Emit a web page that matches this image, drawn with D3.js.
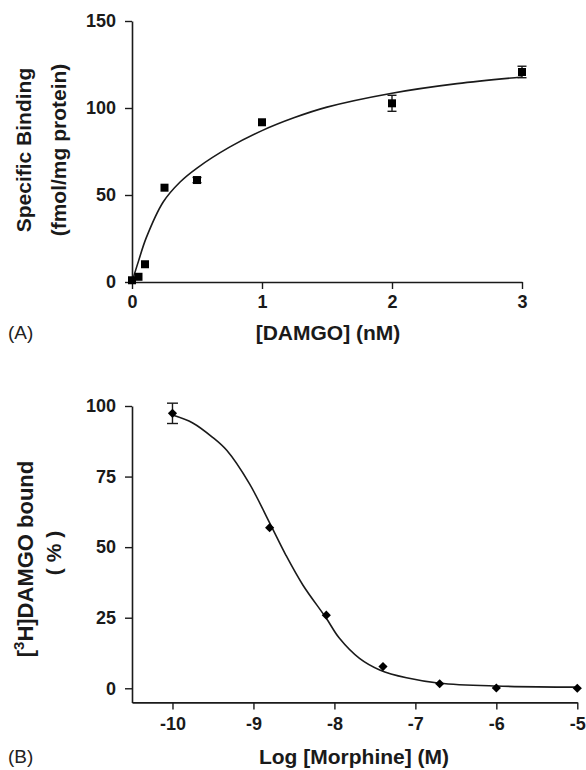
<!DOCTYPE html>
<html><head><meta charset="utf-8">
<script src="https://cdn.jsdelivr.net/npm/d3@7"></script>
<style>
html,body{margin:0;padding:0;background:#fff;}
svg{display:block;font-family:"Liberation Sans",Arial,Helvetica,sans-serif;}
</style></head>
<body>
<svg id="chart" width="586" height="770"></svg>
<script>
// ---------- Panel A data ----------
const aConc = [0, 0.05, 0.1, 0.25, 0.5, 1, 2, 3];            // [DAMGO] nM
const aBinding = [1, 3, 10.2, 54.2, 58.6, 91.8, 102.7, 120.7]; // fmol/mg protein
const aErr = [0, 0, 0, 0, 1.5, 0, 4.6, 3.3];
const aCurveX = [0, 0.05, 0.11, 0.24, 0.37, 0.5, 0.75, 1, 1.25, 1.5, 2, 2.5, 3];
const aCurveY = [0, 12, 25.5, 46, 57.5, 65.5, 77.5, 87, 94.5, 100.5, 108.5, 114, 117.8];
const aXTicks = [0, 1, 2, 3];
const aYTicks = [0, 50, 100, 150];

// ---------- Panel B data ----------
const bLogConc = [-10, -8.8, -8.1, -7.4, -6.7, -6, -5];        // Log [Morphine] M
const bBound = [97.4, 56.9, 25.9, 7.7, 1.6, 0.1, 0];          // % bound
const bErr = [3.6, 0, 0, 0, 0, 0, 0];
const bCurveX = [-10, -9.75, -9.5, -9.33, -9.05, -8.8, -8.6, -8.39, -8.1, -7.94, -7.69, -7.44, -7.11, -6.7, -6, -5];
const bCurveY = [96.8, 94, 88.8, 84.3, 72.5, 58.6, 47.2, 36.6, 24.8, 17.8, 10.6, 6.5, 3.7, 1.8, 0.8, 0.4];
const bXTicks = [-10, -9, -8, -7, -6, -5];
const bYTicks = [0, 25, 50, 75, 100];

const svg = d3.select("#chart");
const ink = "#1a1a1a";
const tickFont = 18, titleFont = 21;
const fmt = d => String(d);   // plain hyphen-minus, as in the original

function styleAxis(g){
  g.selectAll("path.domain").attr("stroke", ink).attr("stroke-width", 1.6);
  g.selectAll(".tick line").attr("stroke", ink).attr("stroke-width", 1.4);
  g.selectAll(".tick text").attr("fill", ink).attr("font-size", tickFont)
    .attr("font-weight", "bold").attr("font-family", "Liberation Sans, Arial, sans-serif");
}

// ================= Panel A =================
const xA = d3.scaleLinear().domain([0, 3]).range([132, 522]);
const yA = d3.scaleLinear().domain([0, 150]).range([282, 21]);

svg.append("g").attr("transform", `translate(0,${yA(0)})`)
  .call(d3.axisBottom(xA).tickValues(aXTicks).tickFormat(fmt).tickSize(7).tickSizeOuter(0).tickPadding(6))
  .call(styleAxis);
svg.append("g").attr("transform", `translate(${xA(0)},0)`)
  .call(d3.axisLeft(yA).tickValues(aYTicks).tickFormat(fmt).tickSize(7).tickSizeOuter(0).tickPadding(9))
  .call(styleAxis);

const lineA = d3.line().x((d,i)=>xA(aCurveX[i])).y(d=>yA(d)).curve(d3.curveCatmullRom.alpha(0.5));
svg.append("path").datum(aCurveY).attr("d", lineA).attr("fill","none").attr("stroke", ink).attr("stroke-width", 1.6);

const errA = svg.append("g").attr("stroke", ink).attr("stroke-width", 1.4);
aConc.forEach((c,i)=>{
  if(aErr[i] > 0){
    const x = xA(c), y1 = yA(aBinding[i]-aErr[i]), y2 = yA(aBinding[i]+aErr[i]);
    errA.append("line").attr("x1",x).attr("x2",x).attr("y1",y1).attr("y2",y2);
    errA.append("line").attr("x1",x-4.5).attr("x2",x+4.5).attr("y1",y1).attr("y2",y1);
    errA.append("line").attr("x1",x-4.5).attr("x2",x+4.5).attr("y1",y2).attr("y2",y2);
  }
});
svg.append("g").selectAll("path").data(aConc).join("path")
  .attr("d", d3.symbol().type(d3.symbolSquare).size(64))
  .attr("transform", (d,i)=>`translate(${xA(d)},${yA(aBinding[i])})`)
  .attr("fill", "#000");

// titles A
svg.append("text").attr("transform", `translate(31,150) rotate(-90)`)
  .attr("text-anchor","middle").attr("font-size", titleFont).attr("font-weight","bold").attr("fill", ink)
  .text("Specific Binding");
svg.append("text").attr("transform", `translate(66,150) rotate(-90)`)
  .attr("text-anchor","middle").attr("font-size", titleFont).attr("font-weight","bold").attr("fill", ink)
  .text("(fmol/mg protein)");
svg.append("text").attr("x", 328).attr("y", 340).attr("text-anchor","middle")
  .attr("font-size", titleFont).attr("font-weight","bold").attr("fill", ink).text("[DAMGO] (nM)");
svg.append("text").attr("x", 8).attr("y", 339).attr("font-size", 19).attr("fill", "#222").text("(A)");

// ================= Panel B =================
const xB = d3.scaleLinear().domain([-10.5, -5]).range([132, 577.3]);
const yB = d3.scaleLinear().domain([-5, 100]).range([702.4, 406]);

svg.append("g").attr("transform", `translate(0,${yB(-5)})`)
  .call(d3.axisBottom(xB).tickValues(bXTicks).tickFormat(fmt).tickSize(7).tickSizeOuter(0).tickPadding(8))
  .call(styleAxis);
svg.append("g").attr("transform", `translate(${xB(-10.5)},0)`)
  .call(d3.axisLeft(yB).tickValues(bYTicks).tickFormat(fmt).tickSize(7).tickSizeOuter(0).tickPadding(9))
  .call(styleAxis);

const lineB = d3.line().x((d,i)=>xB(bCurveX[i])).y(d=>yB(d)).curve(d3.curveCatmullRom.alpha(0.5));
svg.append("path").datum(bCurveY).attr("d", lineB).attr("fill","none").attr("stroke", ink).attr("stroke-width", 1.6);

const errB = svg.append("g").attr("stroke", ink).attr("stroke-width", 1.4);
bLogConc.forEach((c,i)=>{
  if(bErr[i] > 0){
    const x = xB(c), y1 = yB(bBound[i]-bErr[i]), y2 = yB(bBound[i]+bErr[i]);
    errB.append("line").attr("x1",x).attr("x2",x).attr("y1",y1).attr("y2",y2);
    errB.append("line").attr("x1",x-5.5).attr("x2",x+5.5).attr("y1",y1).attr("y2",y1);
    errB.append("line").attr("x1",x-5.5).attr("x2",x+5.5).attr("y1",y2).attr("y2",y2);
  }
});
svg.append("g").selectAll("path").data(bLogConc).join("path")
  .attr("d", d3.symbol().type(d3.symbolSquare).size(42))
  .attr("transform", (d,i)=>`translate(${xB(d)},${yB(bBound[i])}) rotate(45)`)
  .attr("fill", "#000");

// titles B
const tB = svg.append("text").attr("transform", `translate(33,559) rotate(-90)`)
  .attr("text-anchor","middle").attr("font-size", 22).attr("font-weight","bold").attr("fill", ink);
tB.append("tspan").text("[");
tB.append("tspan").attr("font-size", 15).attr("dy", -9).text("3");
tB.append("tspan").attr("dy", 9).text("H]DAMGO bound");
svg.append("text").attr("transform", `translate(61,553) rotate(-90)`)
  .attr("text-anchor","middle").attr("font-size", titleFont).attr("font-weight","bold").attr("fill", ink)
  .text("( % )");
svg.append("text").attr("x", 354).attr("y", 764).attr("text-anchor","middle")
  .attr("font-size", titleFont).attr("font-weight","bold").attr("fill", ink).text("Log [Morphine] (M)");
svg.append("text").attr("x", 8).attr("y", 763).attr("font-size", 19).attr("fill", "#222").text("(B)");
</script>
</body></html>
